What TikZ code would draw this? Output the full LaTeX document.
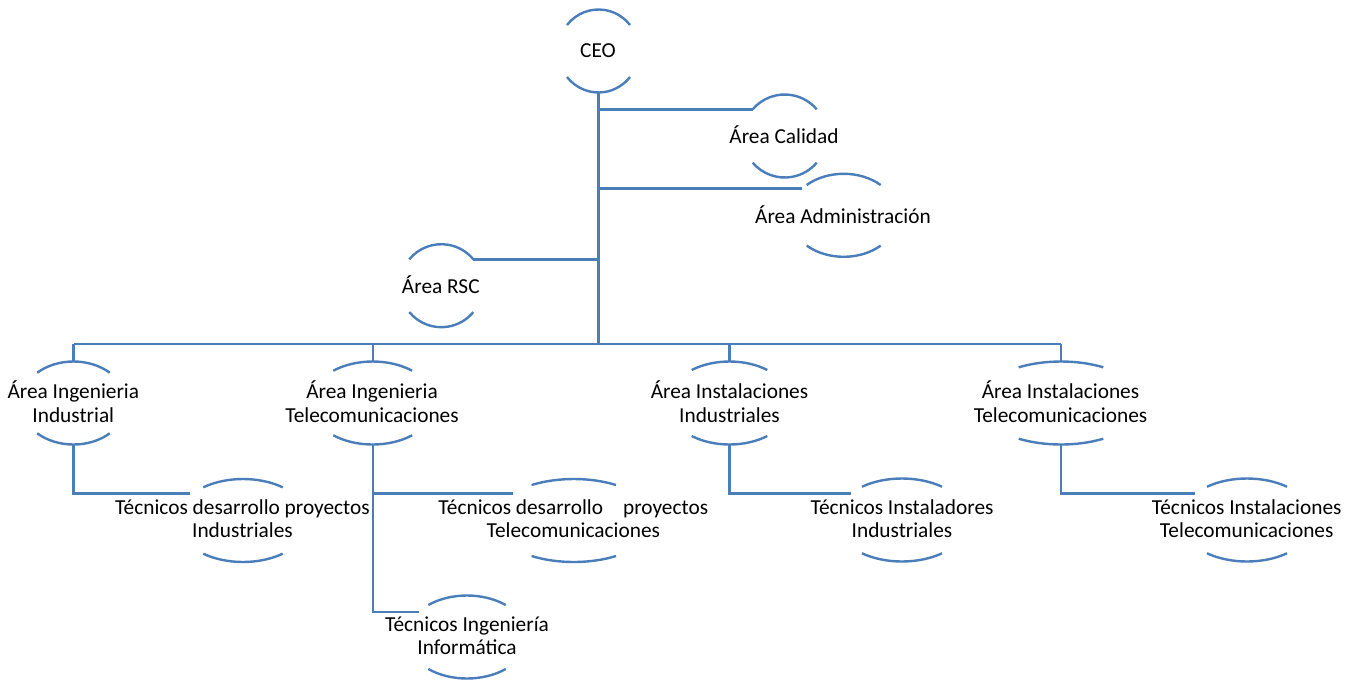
\documentclass[tikz,border=0pt]{standalone}
\usepackage{fontspec}
\setmainfont{Carlito}
\definecolor{lineblue}{RGB}{74,126,187}
\definecolor{headblue}{RGB}{46,116,181}
\tikzset{
  lbl/.style={font=\fontsize{16pt}{17.55pt}\selectfont, align=center, inner sep=0pt, text=black},
  conn/.style={draw=lineblue, line width=1.8pt},
  arcline/.style={draw=lineblue, line width=1.8pt},
  headline/.style={font=\fontsize{26pt}{30pt}\selectfont, text=headblue, inner sep=0pt, anchor=base west}
}
\newcommand\RY{41.5}
% #1 name, #2 cx, #3 cy, #4 half width of arcs, #5 dy of arc ends, #6 text x, #7 text y, #8 text
\newcommand\arcnode[8]{%
  \pgfmathsetmacro\myang{asin(#5/\RY)}%
  \pgfmathsetmacro\myrx{#4/cos(\myang)}%
  \node[lbl] (#1) at (#6,{-(#7+1.6)}) {\strut #8\strut};
  \coordinate (#1-t) at (#2,{-(#3-\RY)});
  \coordinate (#1-b) at (#2,{-(#3+\RY)});
  \coordinate (#1-tl) at ({#2-#4},{-(#3-#5)});
  \coordinate (#1-tr) at ({#2+#4},{-(#3-#5)});
  \draw[arcline] (#1-tl) arc[start angle={180-\myang}, end angle={\myang}, x radius=\myrx, y radius=\RY];
  \draw[arcline] ({#2-#4},{-(#3+#5)}) arc[start angle={180+\myang}, end angle={360-\myang}, x radius=\myrx, y radius=\RY];
}
\begin{document}
\begin{tikzpicture}[x=0.75pt, y=0.75pt]
\useasboundingbox (0,0) rectangle (1360,-679);
\clip (0,0) rectangle (1360,-679);
\node[headline] (title) at (101,7.5) {Organigrama};

\arcnode{ceo}{598.5}{51}{31.5}{26}{598}{51.7}{CEO}
\arcnode{cal}{784.7}{136}{32}{26.7}{784}{136.7}{Área Calidad}
\arcnode{adm}{843.7}{215.3}{37}{30.3}{843}{216.7}{Área Administración}
\arcnode{rsc}{441.3}{285.7}{32}{26.4}{440.8}{286.7}{Área RSC}

\arcnode{ingind}{73.5}{403}{36.3}{30.3}{73.3}{403.3}{Área Ingenieria\\Industrial}
\arcnode{ingtel}{372.7}{403}{39.4}{32.3}{372}{403.3}{Área Ingenieria\\Telecomunicaciones}
\arcnode{instind}{729.5}{403}{37.8}{33}{729.5}{403.3}{Área Instalaciones\\Industriales}
\arcnode{insttel}{1061}{403}{42.3}{35.7}{1060.5}{403.3}{Área Instalaciones\\Telecomunicaciones}

\arcnode{tdi}{243}{520.5}{39.7}{33.2}{242.5}{520}{Técnicos desarrollo proyectos\\Industriales}
\arcnode{tdt}{573.8}{520.5}{42.2}{35.5}{573.3}{520}{Técnicos desarrollo\hspace{15pt}proyectos\\Telecomunicaciones}
\arcnode{tii}{902}{520}{40}{33.3}{902}{520}{Técnicos Instaladores\\Industriales}
\arcnode{tit}{1247}{520}{40}{33.3}{1246.7}{520}{Técnicos Instalaciones\\Telecomunicaciones}
\arcnode{tinf}{467}{637}{38.7}{32}{467}{636.7}{Técnicos Ingeniería\\Informática}

% trunk and side branches
\coordinate (trunk) at (598.5,-344);
\draw[conn] (ceo-b) -- (trunk);
\draw[conn] (cal-tl -| ceo-b) -- (cal-tl);
\coordinate (admin) at (801.7,-188.3);
\draw[conn] (admin -| ceo-b) -- (admin);
\draw[conn] (rsc-tr) -- (rsc-tr -| ceo-b);

% bus
\draw[conn] (ingind-t |- trunk) -- (insttel-t |- trunk);
\draw[conn] (ingind-t |- trunk) -- (ingind-t);
\draw[conn] (ingtel-t |- trunk) -- (ingtel-t);
\draw[conn] (instind-t |- trunk) -- (instind-t);
\draw[conn] (insttel-t |- trunk) -- (insttel-t);

% level 3
\coordinate (tdi-in) at (190,-493.3);
\coordinate (tdt-in) at (513.3,-493.3);
\coordinate (tinf-in) at (419.3,-611.7);
\coordinate (tii-in) at (850.7,-493.3);
\coordinate (tit-in) at (1194.5,-493.3);
\draw[conn] (ingind-b) |- (tdi-in);
\draw[conn] (ingtel-b) |- (tdt-in);
\draw[conn] (ingtel-b) |- (tinf-in);
\draw[conn] (instind-b) |- (tii-in);
\draw[conn] (insttel-b) |- (tit-in);
\end{tikzpicture}
\end{document}
